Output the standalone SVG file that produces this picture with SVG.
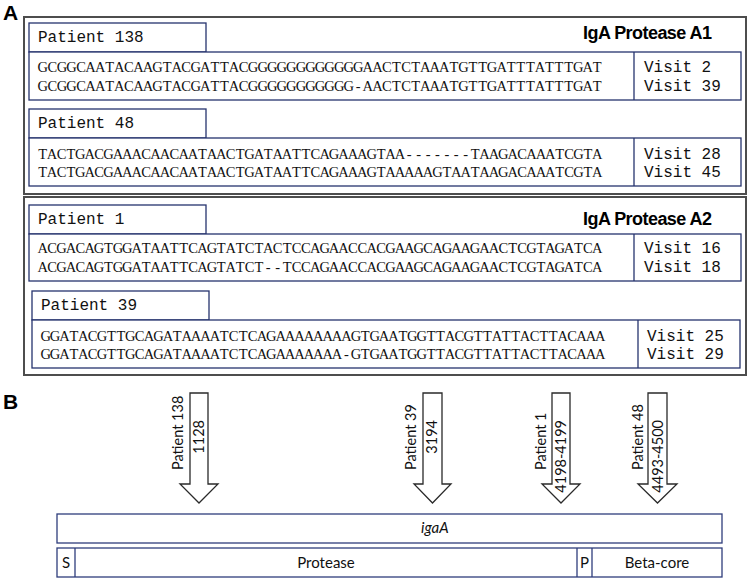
<svg xmlns="http://www.w3.org/2000/svg" width="750" height="579" viewBox="0 0 750 579">
<style>
.panel{font-family:"Liberation Sans",Arial,sans-serif;font-weight:bold;font-size:21px;fill:#000}
.outer{fill:#fff;stroke:#4d4d4d;stroke-width:2}
.box{fill:#fff;stroke:#26336e;stroke-width:1.3}
.mono{font-family:"Liberation Mono","Courier New",monospace;font-size:16px;fill:#111}
.seq{font-family:"Liberation Serif","Times New Roman",serif;font-size:14.5px;fill:#111;font-kerning:none;text-anchor:middle}
.title{font-family:"Liberation Sans",Arial,sans-serif;font-weight:bold;font-size:18px;fill:#000}
.arrow{fill:#fff;stroke:#2a2a2a;stroke-width:1.3;stroke-linejoin:miter}
.lab{font-family:Lato,"Open Sans",sans-serif;font-size:14.5px;fill:#111}
.dom{font-family:Lato,"Open Sans",sans-serif;font-size:15px;fill:#111}
.bar{fill:#fff;stroke:#2e3d7c;stroke-width:1.3}
</style>
<rect width="750" height="579" fill="#fff"/>
<text class="panel" x="3" y="20">A</text>
<text class="panel" x="3" y="409">B</text>

<g id="protease-a1">
<rect class="outer" x="24" y="17" width="722" height="177"/>
<text class="title" x="712" y="39" text-anchor="end" textLength="129">IgA Protease A1</text>
</g>
<g id="patient-138">
<rect class="box" x="29" y="23" width="177" height="29"/>
<text class="mono" x="38" y="42">Patient 138</text>
<rect class="box" x="29" y="52" width="712" height="48"/>
<line class="box" x1="634" y1="52" x2="634" y2="100"/>
<text class="seq" transform="translate(42.8,72)" x="0 9.56 19.12 28.68 38.24 47.8 57.36 66.92 76.48 86.04 95.6 105.16 114.72 124.28 133.84 143.4 152.96 162.52 172.08 181.64 191.2 200.76 210.32 219.88 229.44 239 248.56 258.12 267.68 277.24 286.8 296.36 305.92 315.48 325.04 334.6 344.16 353.72 363.28 372.84 382.4 391.96 401.52 411.08 420.64 430.2 439.76 449.32 458.88 468.44 478 487.56 497.12 506.68 516.24 525.8 535.36 544.92 554.48" y="0">GCGGCAATACAAGTACGATTACGGGGGGGGGGGGAACTCTAAATGTTGATTTATTTGAT</text>
<text class="seq" transform="translate(42.8,91)" x="0 9.56 19.12 28.68 38.24 47.8 57.36 66.92 76.48 86.04 95.6 105.16 114.72 124.28 133.84 143.4 152.96 162.52 172.08 181.64 191.2 200.76 210.32 219.88 229.44 239 248.56 258.12 267.68 277.24 286.8 296.36 305.92 315.48 325.04 334.6 344.16 353.72 363.28 372.84 382.4 391.96 401.52 411.08 420.64 430.2 439.76 449.32 458.88 468.44 478 487.56 497.12 506.68 516.24 525.8 535.36 544.92 554.48" y="0">GCGGCAATACAAGTACGATTACGGGGGGGGGGG-AACTCTAAATGTTGATTTATTTGAT</text>
<text class="mono" x="644" y="72">Visit 2</text>
<text class="mono" x="644" y="91">Visit 39</text>
</g>
<g id="patient-48">
<rect class="box" x="29" y="109" width="177" height="29"/>
<text class="mono" x="38" y="128">Patient 48</text>
<rect class="box" x="29" y="138" width="712" height="48"/>
<line class="box" x1="634" y1="138" x2="634" y2="186"/>
<text class="seq" transform="translate(42.7,159)" x="0 9.4 18.8 28.2 37.6 47 56.4 65.8 75.2 84.6 94 103.4 112.8 122.2 131.6 141 150.4 159.8 169.2 178.6 188 197.4 206.8 216.2 225.6 235 244.4 253.8 263.2 272.6 282 291.4 300.8 310.2 319.6 329 338.4 347.8 357.2 366.6 376 385.4 394.8 404.2 413.6 423 432.4 441.8 451.2 460.6 470 479.4 488.8 498.2 507.6 517 526.4 535.8 545.2 554.6" y="0">TACTGACGAAACAACAATAACTGATAATTCAGAAAGTAA-------TAAGACAAATCGTA</text>
<text class="seq" transform="translate(42.7,177)" x="0 9.4 18.8 28.2 37.6 47 56.4 65.8 75.2 84.6 94 103.4 112.8 122.2 131.6 141 150.4 159.8 169.2 178.6 188 197.4 206.8 216.2 225.6 235 244.4 253.8 263.2 272.6 282 291.4 300.8 310.2 319.6 329 338.4 347.8 357.2 366.6 376 385.4 394.8 404.2 413.6 423 432.4 441.8 451.2 460.6 470 479.4 488.8 498.2 507.6 517 526.4 535.8 545.2 554.6" y="0">TACTGACGAAACAACAATAACTGATAATTCAGAAAGTAAAAAGTAATAAGACAAATCGTA</text>
<text class="mono" x="644" y="159">Visit 28</text>
<text class="mono" x="644" y="177">Visit 45</text>
</g>

<g id="protease-a2">
<rect class="outer" x="24" y="197" width="722" height="178"/>
<text class="title" x="712" y="225" text-anchor="end" textLength="129">IgA Protease A2</text>
</g>
<g id="patient-1">
<rect class="box" x="29" y="205" width="177" height="29"/>
<text class="mono" x="38" y="224">Patient 1</text>
<rect class="box" x="29" y="234" width="712" height="47"/>
<line class="box" x1="634" y1="234" x2="634" y2="281"/>
<text class="seq" transform="translate(42.7,253)" x="0 9.4 18.8 28.2 37.6 47 56.4 65.8 75.2 84.6 94 103.4 112.8 122.2 131.6 141 150.4 159.8 169.2 178.6 188 197.4 206.8 216.2 225.6 235 244.4 253.8 263.2 272.6 282 291.4 300.8 310.2 319.6 329 338.4 347.8 357.2 366.6 376 385.4 394.8 404.2 413.6 423 432.4 441.8 451.2 460.6 470 479.4 488.8 498.2 507.6 517 526.4 535.8 545.2 554.6" y="0">ACGACAGTGGATAATTCAGTATCTACTCCAGAACCACGAAGCAGAAGAACTCGTAGATCA</text>
<text class="seq" transform="translate(42.7,272)" x="0 9.4 18.8 28.2 37.6 47 56.4 65.8 75.2 84.6 94 103.4 112.8 122.2 131.6 141 150.4 159.8 169.2 178.6 188 197.4 206.8 216.2 225.6 235 244.4 253.8 263.2 272.6 282 291.4 300.8 310.2 319.6 329 338.4 347.8 357.2 366.6 376 385.4 394.8 404.2 413.6 423 432.4 441.8 451.2 460.6 470 479.4 488.8 498.2 507.6 517 526.4 535.8 545.2 554.6" y="0">ACGACAGTGGATAATTCAGTATCT--TCCAGAACCACGAAGCAGAAGAACTCGTAGATCA</text>
<text class="mono" x="644" y="253">Visit 16</text>
<text class="mono" x="644" y="272">Visit 18</text>
</g>
<g id="patient-39">
<rect class="box" x="32" y="291" width="177" height="29"/>
<text class="mono" x="41" y="310">Patient 39</text>
<rect class="box" x="32" y="320" width="708" height="48"/>
<line class="box" x1="638" y1="320" x2="638" y2="368"/>
<text class="seq" transform="translate(45.7,341)" x="0 9.4 18.8 28.2 37.6 47 56.4 65.8 75.2 84.6 94 103.4 112.8 122.2 131.6 141 150.4 159.8 169.2 178.6 188 197.4 206.8 216.2 225.6 235 244.4 253.8 263.2 272.6 282 291.4 300.8 310.2 319.6 329 338.4 347.8 357.2 366.6 376 385.4 394.8 404.2 413.6 423 432.4 441.8 451.2 460.6 470 479.4 488.8 498.2 507.6 517 526.4 535.8 545.2 554.6" y="0">GGATACGTTGCAGATAAAATCTCAGAAAAAAAAGTGAATGGTTACGTTATTACTTACAAA</text>
<text class="seq" transform="translate(45.7,359)" x="0 9.4 18.8 28.2 37.6 47 56.4 65.8 75.2 84.6 94 103.4 112.8 122.2 131.6 141 150.4 159.8 169.2 178.6 188 197.4 206.8 216.2 225.6 235 244.4 253.8 263.2 272.6 282 291.4 300.8 310.2 319.6 329 338.4 347.8 357.2 366.6 376 385.4 394.8 404.2 413.6 423 432.4 441.8 451.2 460.6 470 479.4 488.8 498.2 507.6 517 526.4 535.8 545.2 554.6" y="0">GGATACGTTGCAGATAAAATCTCAGAAAAAAA-GTGAATGGTTACGTTATTACTTACAAA</text>
<text class="mono" x="647" y="341">Visit 25</text>
<text class="mono" x="647" y="359">Visit 29</text>
</g>

<g id="connectors">
<g id="arrow-138">
<polygon class="arrow" points="190,393 208,393 208,484 218,484 199,503 180,484 190,484"/>
<text class="lab" transform="translate(183,470) rotate(-90)">Patient 138</text>
<text class="lab" transform="translate(203.5,420) rotate(-90)" text-anchor="end">1128</text>
</g>
<g id="arrow-39">
<polygon class="arrow" points="423,393 442,393 442,484 451,484 432.5,503 414,484 423,484"/>
<text class="lab" transform="translate(415.5,470) rotate(-90)">Patient 39</text>
<text class="lab" transform="translate(437,420) rotate(-90)" text-anchor="end">3194</text>
</g>
<g id="arrow-1">
<polygon class="arrow" points="552,393 570,393 570,484 580,484 561,503 542,484 552,484"/>
<text class="lab" transform="translate(545.5,470) rotate(-90)">Patient 1</text>
<text class="lab" transform="translate(565.5,420) rotate(-90)" text-anchor="end">4198-4199</text>
</g>
<g id="arrow-48">
<polygon class="arrow" points="648,393 667,393 667,484 677,484 657.5,503 638,484 648,484"/>
<text class="lab" transform="translate(643,470) rotate(-90)">Patient 48</text>
<text class="lab" transform="translate(663,420) rotate(-90)" text-anchor="end">4493-4500</text>
</g>
</g>

<g id="igaA">
<rect class="bar" x="57" y="514" width="665" height="29"/>
<text class="dom" x="421" y="533" font-style="italic">igaA</text>
</g>
<g id="domains">
<rect class="bar" x="57" y="548" width="665" height="29"/>
<line class="bar" x1="75" y1="548" x2="75" y2="577"/>
<line class="bar" x1="577" y1="548" x2="577" y2="577"/>
<line class="bar" x1="592" y1="548" x2="592" y2="577"/>
<text class="dom" x="66" y="568" text-anchor="middle">S</text>
<text class="dom" x="326" y="568" text-anchor="middle">Protease</text>
<text class="dom" x="584.5" y="568" text-anchor="middle">P</text>
<text class="dom" x="657" y="568" text-anchor="middle">Beta-core</text>
</g>
</svg>
